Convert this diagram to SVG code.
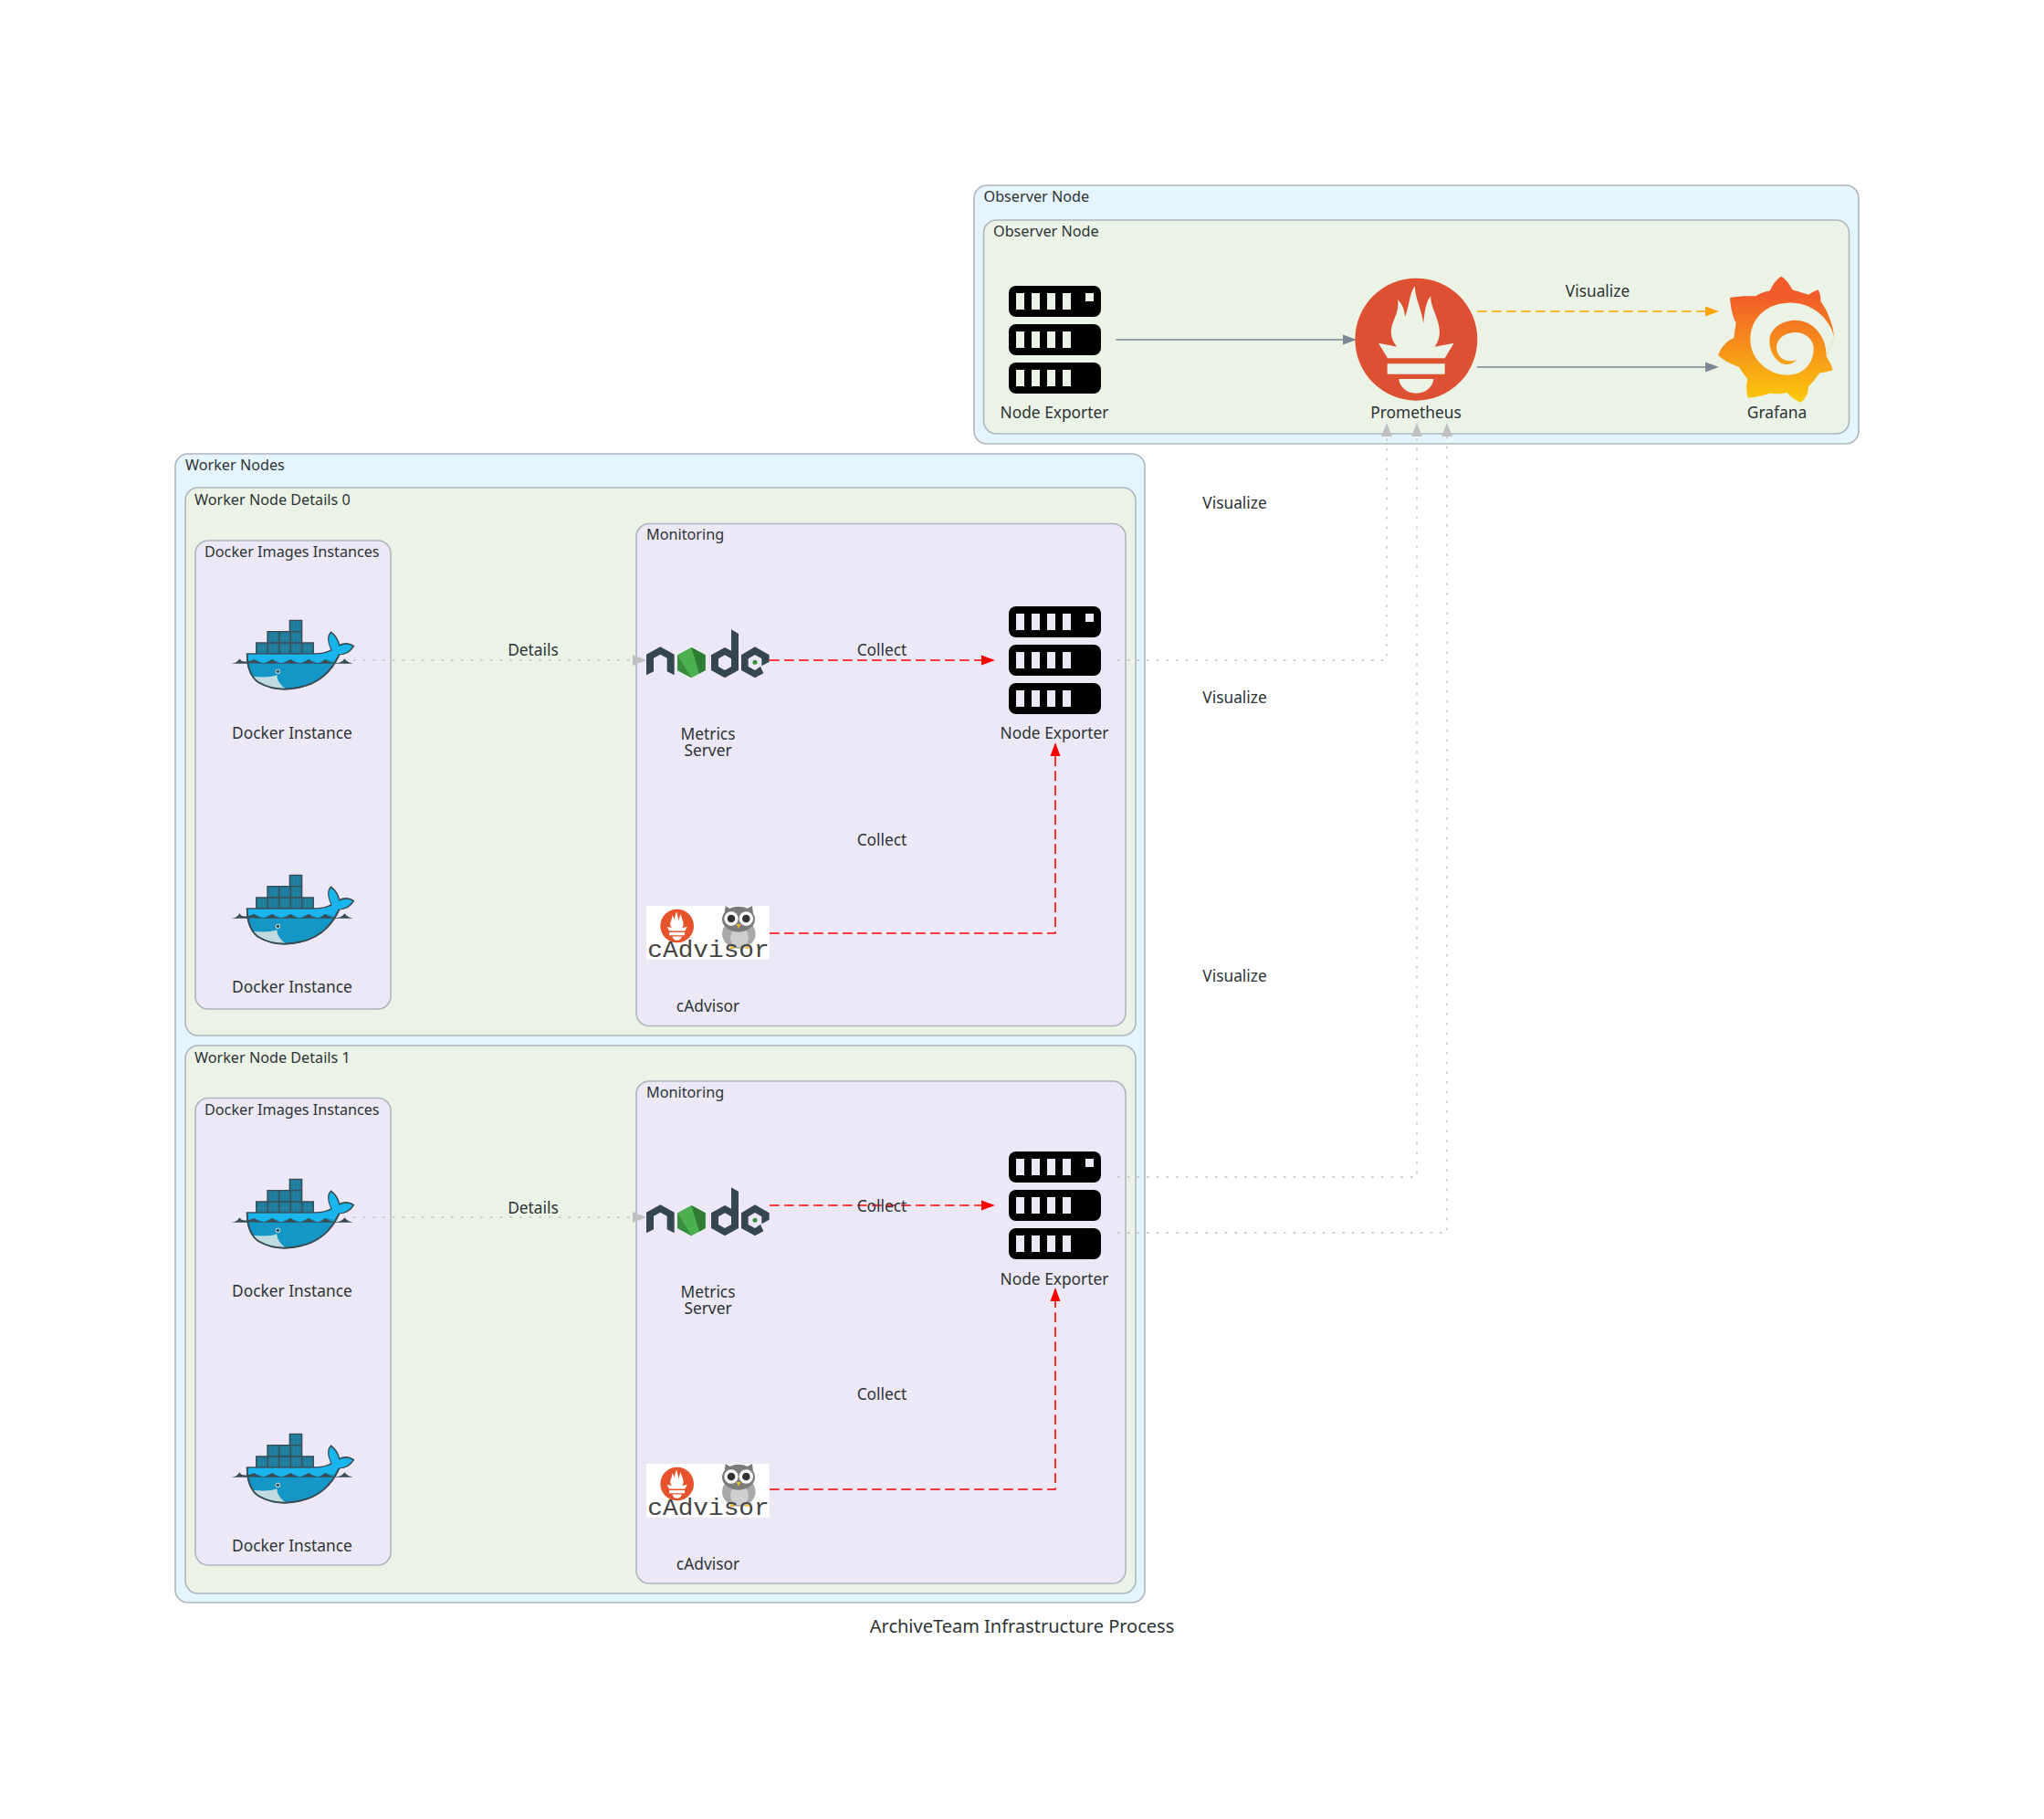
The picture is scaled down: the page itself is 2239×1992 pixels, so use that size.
<svg xmlns="http://www.w3.org/2000/svg" xmlns:xlink="http://www.w3.org/1999/xlink" width="2239" height="1992" viewBox="0 0 2239 1992">
<style>
text{font-family:"Noto Sans","DejaVu Sans",sans-serif;fill:#2D3436}
.n{font-size:17.33px;text-anchor:middle}
.c{font-size:16.2px}
.t{font-size:20px;text-anchor:middle}
.cl{stroke:#AEB6BE;stroke-width:1.6}
.o{fill:#E5F5FD}.g{fill:#EBF3E7}.p{fill:#ECE8F6}
.e{fill:none;stroke-width:1.33}
.grey{stroke:#7B8894;stroke-width:1.6}
.dot{stroke:#C0C0C0;stroke-dasharray:2.7 8}
.red{stroke:#FF0000;stroke-dasharray:10.7 5.3;stroke-width:1.6}
.orange{stroke:#FFA500;stroke-dasharray:10.7 5.3;stroke-width:1.6}
.k{fill:#36464E}
</style>
<defs>
<marker id="mg" markerUnits="userSpaceOnUse" markerWidth="15" markerHeight="12" viewBox="0 0 15 12" refX="0" refY="6" orient="auto"><path d="M0 0.500L15 6L0 11.500Z" fill="#7B8894"/></marker>
<marker id="md" markerUnits="userSpaceOnUse" markerWidth="15" markerHeight="12" viewBox="0 0 15 12" refX="0" refY="6" orient="auto"><path d="M0 0L15 6L0 12Z" fill="#C0C0C0"/></marker>
<marker id="mr" markerUnits="userSpaceOnUse" markerWidth="15" markerHeight="12" viewBox="0 0 15 12" refX="0" refY="6" orient="auto"><path d="M0 0.500L15 6L0 11.500Z" fill="#FF0000"/></marker>
<marker id="mo" markerUnits="userSpaceOnUse" markerWidth="15" markerHeight="12" viewBox="0 0 15 12" refX="0" refY="6" orient="auto"><path d="M0 0.500L15 6L0 11.500Z" fill="#FFA500"/></marker>
<linearGradient id="gr" x1="0" y1="0" x2="0" y2="1"><stop offset="0.15" stop-color="#F15B2A"/><stop offset="1" stop-color="#FBCA0A"/></linearGradient>
<g id="srow">
<rect width="101" height="34" rx="8"/>
<rect x="8" y="8" width="9" height="18" fill="var(--h)"/><rect x="25" y="8" width="9" height="18" fill="var(--h)"/><rect x="42" y="8" width="9" height="18" fill="var(--h)"/><rect x="59" y="8" width="9" height="18" fill="var(--h)"/>
</g>
<g id="server">
<use xlink:href="#srow" href="#srow"/><rect x="84" y="8" width="9" height="9" fill="var(--h)"/>
<use xlink:href="#srow" href="#srow" y="42"/><use xlink:href="#srow" href="#srow" y="84"/>
</g>
<g id="whale" transform="translate(240 660) scale(.3333)">
<g stroke="#394D54" stroke-width="4" fill="#23799A">
<path d="M122 132h37.600v38h-37.600zM159.600 132h37.600v38h-37.600zM197.200 132h37.600v38h-37.600zM234.800 132h37.600v38h-37.600zM272.400 132h37.600v38h-37.600zM159 95h38v37h-38zM197 95h38v37h-38zM235 95h37v37h-37zM232 58h40v37h-40z"/>
</g>
<g stroke="#1a93b5" stroke-width="3" fill="none" opacity=".75"><path d="M134 138v26M146 138v26M172 138v26M184 138v26M210 138v26M222 138v26M247 138v26M259 138v26M285 138v26M297 138v26M172 101v26M184 101v26M210 101v26M222 101v26M247 101v26M259 101v26M246 64v26M258 64v26"/></g>
<path d="M92 168H310C340 168 355 165 370 155C358 130 355 110 368 97C385 110 392 125 395 140C410 132 430 133 442 143C432 160 415 170 395 170C375 215 340 262 265 278C220 288 170 285 130 262C105 245 92 215 92 168Z" fill="#1496C6" stroke="#394D54" stroke-width="5"/>
<path d="M95 170H310C340 170 355 167 372 157C358 130 358 110 368 101C383 112 390 128 394 144C410 136 428 136 438 144C428 158 412 168 392 171L378 192L350 186L325 198L295 186L265 198L235 186L205 198L175 186L145 198L115 186L95 198Z" fill="#19B5EC"/>
<path d="M40 200C55 198 60 195 67 184C74 195 85 198 115 186C130 196 140 198 145 198C160 198 165 190 175 186C190 198 200 198 205 198C220 198 225 190 235 186C250 198 260 198 265 198C280 198 285 190 295 186C310 198 320 198 325 198C340 198 340 190 350 186C365 198 375 198 385 198C395 198 405 195 413 184C420 195 430 198 440 200Z" fill="#394D54"/>
<path d="M97 200C110 199 120 200 145 201H370C360 225 335 255 300 268C250 280 200 280 160 270C125 255 105 235 97 200Z" fill="#1496C6"/>
<path d="M112 243C140 245 170 246 190 238C190 255 203 272 217 282C175 283 135 270 112 243Z" fill="#BFDBE0"/>
<path d="M92 168C92 215 105 245 130 262C170 285 220 288 265 278C340 262 375 215 395 170" fill="none" stroke="#394D54" stroke-width="5"/>
<circle cx="193" cy="226" r="8" fill="#D4EDF1"/><circle cx="193" cy="226" r="5.500" fill="#394D54"/>
</g>
<g id="nodelogo" transform="translate(700 680) scale(.3333)">
<path class="k" d="M24 110L70 85L116 110V178L92 166V122L70 110L48 122V166L24 178Z"/>
<path d="M172 87L218 112V162L172 187L126 162V112Z" fill="#4CAF50"/>
<path d="M172 87L218 112V162L198 173Z" fill="#2E7D32"/>
<path d="M126 112L172 187L126 162Z" fill="#388E3C"/>
<path class="k" fill-rule="evenodd" d="M303 28L327 42V162L282 187L237 162V112L282 87L303 98ZM282 112L261 124V150L282 162L303 150V124Z"/>
<path class="k" fill-rule="evenodd" d="M336 112L381 85L428 112V134L399 150L409 172L381 187L336 162ZM381 111L359 124V150L381 162L403 147V124Z"/>
<circle cx="381" cy="136" r="7.500" fill="#388E3C"/>
</g>
<g id="cadv" transform="translate(700 980) scale(.3333)">
<rect x="24" y="36" width="404" height="176" fill="#fff"/>
<circle cx="125" cy="102" r="55" fill="#E6522C"/>
<g transform="translate(125 102) scale(.27) translate(-214 -231)" fill="#fff"><path d="M150 254C135 235 128 215 133 190C138 165 160 135 153 100C170 115 175 135 177 155C190 130 190 80 210 55C208 90 230 125 238 178C240 150 245 105 262 87C258 120 290 160 291 205C291 225 285 240 275 254L338 242L308 292H120L90 242Z"/><path d="M119 310H308V344H119ZM157 360H271C270 385 245 407 214 407C183 407 158 385 157 360Z"/></g>
<path d="M284 36L300 46L354 46L372 36L376 70L332 75L280 70Z" fill="#7B7B7B"/>
<ellipse cx="328" cy="128" rx="55" ry="48" fill="#A9A9A9"/>
<ellipse cx="330" cy="140" rx="30" ry="32" fill="#CFCFCF"/>
<ellipse cx="327" cy="80" rx="54" ry="42" fill="#7B7B7B"/>
<circle cx="303" cy="78" r="23" fill="#fff"/><circle cx="352" cy="78" r="23" fill="#fff"/>
<circle cx="303" cy="78" r="13" fill="#333"/><circle cx="352" cy="78" r="13" fill="#333"/>
<path d="M320 96H335L327 110Z" fill="#F5B82E"/>
<path d="M300 166L316 176L300 178ZM345 176L360 165L362 176Z" fill="#F5B82E"/>
<text x="28" y="205" font-size="75" textLength="400" lengthAdjust="spacingAndGlyphs" style="font-family:'Liberation Mono',monospace;fill:#444">cAdvisor</text>
</g>
</defs>
<rect width="2239" height="1992" fill="#fff"/>

<g id="clusters">
<g id="cluster-observer"><rect class="cl o" x="1067" y="203" width="969" height="283" rx="14"/><text class="c" x="1077.500" y="221">Observer Node</text>
<rect class="cl g" x="1077.500" y="241" width="948" height="234" rx="14"/><text class="c" x="1088" y="259">Observer Node</text></g>
<g id="cluster-workers"><rect class="cl o" x="192" y="497" width="1062" height="1258" rx="14"/><text class="c" x="203" y="515">Worker Nodes</text></g>
<g id="cluster-d0"><rect class="cl g" x="203" y="534" width="1041" height="600" rx="14"/><text class="c" x="213" y="553">Worker Node Details 0</text>
<rect class="cl p" x="214" y="592" width="214" height="513" rx="14"/><text class="c" x="224" y="610">Docker Images Instances</text>
<rect class="cl p" x="697" y="573.500" width="536" height="550" rx="14"/><text class="c" x="708" y="591">Monitoring</text></g>
<g id="cluster-d1"><rect class="cl g" x="203" y="1145" width="1041" height="600" rx="14"/><text class="c" x="213" y="1164">Worker Node Details 1</text>
<rect class="cl p" x="214" y="1202.500" width="214" height="511.500" rx="14"/><text class="c" x="224" y="1221">Docker Images Instances</text>
<rect class="cl p" x="697" y="1184" width="536" height="550" rx="14"/><text class="c" x="708" y="1202">Monitoring</text></g>
</g>

<g id="connectors">
<path class="e grey" d="M1222.500 372H1471" marker-end="url(#mg)"/>
<path class="e orange" d="M1618 341H1868" marker-end="url(#mo)"/>
<path class="e grey" d="M1618 402H1868" marker-end="url(#mg)"/>
<path class="e dot" d="M387 723H693" marker-end="url(#md)"/>
<path class="e red" d="M843 723H1075" marker-end="url(#mr)"/>
<path class="e red" d="M843 1022H1156V828" marker-end="url(#mr)"/>
<path class="e dot" d="M387 1333H693" marker-end="url(#md)"/>
<path class="e red" d="M843 1320H1075" marker-end="url(#mr)"/>
<path class="e red" d="M843 1631H1156V1425" marker-end="url(#mr)"/>
<path class="e dot" d="M1224 723H1519V478" marker-end="url(#md)"/>
<path class="e dot" d="M1224 1289H1552V478" marker-end="url(#md)"/>
<path class="e dot" d="M1224 1350H1585V478" marker-end="url(#md)"/>
</g>

<g id="edge-labels">
<text class="n" x="1750" y="325">Visualize</text>
<text class="n" x="1352.500" y="557">Visualize</text>
<text class="n" x="1352.500" y="770">Visualize</text>
<text class="n" x="1352.500" y="1075">Visualize</text>
<text class="n" x="584" y="718">Details</text>
<text class="n" x="584" y="1329">Details</text>
<text class="n" x="966" y="718">Collect</text>
<text class="n" x="966" y="926">Collect</text>
<text class="n" x="966" y="1327">Collect</text>
<text class="n" x="966" y="1533">Collect</text>
</g>

<g id="obs-exporter" style="--h:#EBF3E7"><use xlink:href="#server" href="#server" x="1105" y="313"/><text class="n" x="1155" y="458">Node Exporter</text></g>
<g id="prometheus">
<g transform="translate(1480 295) scale(.3333)">
<circle cx="214" cy="230" r="201" fill="#DD5031"/>
<g fill="#EBF3E7"><path d="M150 254C135 235 128 215 133 190C138 165 160 135 153 100C170 115 175 135 177 155C190 130 190 80 210 55C208 90 230 125 238 178C240 150 245 105 262 87C258 120 290 160 291 205C291 225 285 240 275 254L338 242L308 292H120L90 242Z"/><path d="M119 310H308V344H119ZM157 360H271C270 385 245 407 214 407C183 407 158 385 157 360Z"/></g>
</g>
<text class="n" x="1551" y="458">Prometheus</text></g>
<g id="grafana">
<g transform="translate(1870 290) scale(.3333)">
<path fill="url(#gr)" d="M243 38C258 45 272 65 280 82C300 88 320 95 333 98C345 92 355 85 365 82C372 95 374 108 373 120C395 150 412 190 418 238L392 300C402 320 410 330 413 345C400 350 385 355 370 355C355 375 345 390 333 400C333 420 325 440 308 452C290 445 275 435 263 420C240 425 225 425 205 422C185 430 160 435 135 437C128 420 128 395 133 375C120 360 110 345 105 335C85 330 55 315 36 297C45 270 65 250 88 240C90 225 92 205 95 190C85 175 77 140 75 108C100 102 135 102 160 103C175 92 195 88 207 85C212 70 225 50 243 38Z"/>
<path fill="#EBF3E7" d="M418 238C400 170 340 122 265 125C190 128 142 180 142 245C142 310 200 362 265 362C315 362 352 325 350 270C345 240 320 222 290 222C255 222 228 245 228 270C228 300 250 316 272 316C282 316 290 315 295 310C285 325 270 328 258 327C230 325 205 290 205 250C205 210 245 182 290 182C345 182 392 230 392 300Z"/>
</g>
<text class="n" x="1946.500" y="458">Grafana</text></g>

<g id="d0-whale1"><use xlink:href="#whale" href="#whale"/><text class="n" x="320" y="809">Docker Instance</text></g>
<g id="d0-whale2"><use xlink:href="#whale" href="#whale" y="279"/><text class="n" x="320" y="1087">Docker Instance</text></g>
<g id="d0-metrics"><use xlink:href="#nodelogo" href="#nodelogo"/><text class="n" x="775.500" y="809.500"><tspan x="775.500">Metrics</tspan><tspan x="775.500" dy="18">Server</tspan></text></g>
<g id="d0-exporter" style="--h:#ECE8F6"><use xlink:href="#server" href="#server" x="1105" y="664"/><text class="n" x="1155" y="809">Node Exporter</text></g>
<g id="d0-cadvisor"><use xlink:href="#cadv" href="#cadv"/><text class="n" x="775.500" y="1108">cAdvisor</text></g>

<g id="d1-whale1"><use xlink:href="#whale" href="#whale" y="612"/><text class="n" x="320" y="1420">Docker Instance</text></g>
<g id="d1-whale2"><use xlink:href="#whale" href="#whale" y="891"/><text class="n" x="320" y="1699">Docker Instance</text></g>
<g id="d1-metrics"><use xlink:href="#nodelogo" href="#nodelogo" y="611"/><text class="n" x="775.500" y="1421"><tspan x="775.500">Metrics</tspan><tspan x="775.500" dy="18">Server</tspan></text></g>
<g id="d1-exporter" style="--h:#ECE8F6"><use xlink:href="#server" href="#server" x="1105" y="1261"/><text class="n" x="1155" y="1407">Node Exporter</text></g>
<g id="d1-cadvisor"><use xlink:href="#cadv" href="#cadv" y="611"/><text class="n" x="775.500" y="1719">cAdvisor</text></g>

<text id="title" class="t" x="1119.500" y="1788">ArchiveTeam Infrastructure Process</text>
</svg>
